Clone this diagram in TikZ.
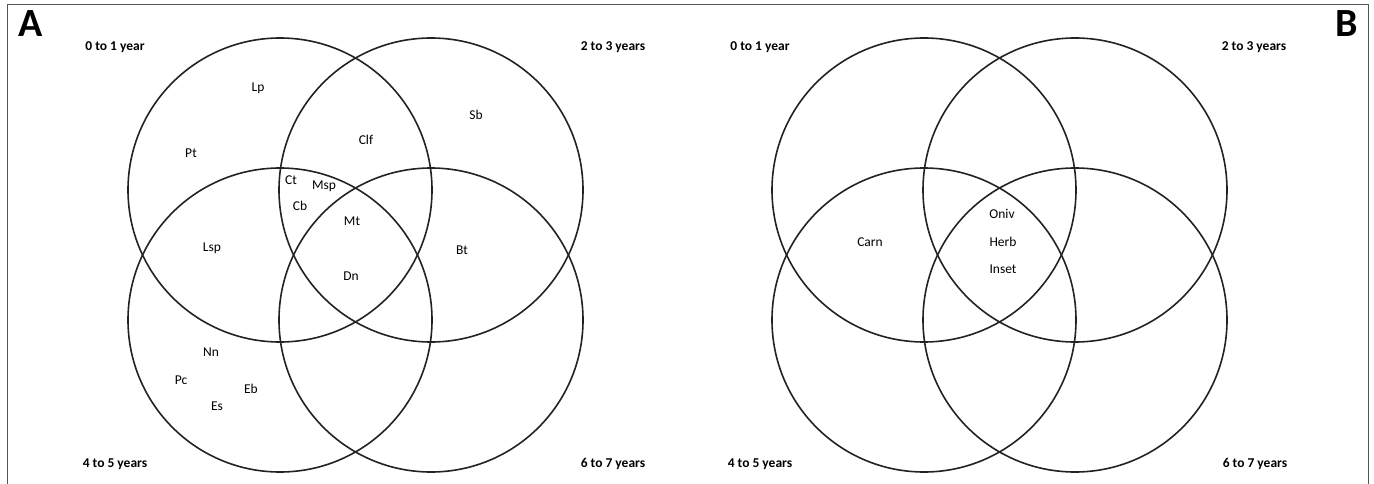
\documentclass[tikz,border=0pt]{standalone}
\usepackage{fontspec}
\setmainfont{Carlito}
\usepackage{tikz}
\usetikzlibrary{positioning}
\definecolor{venngray}{HTML}{222222}
\definecolor{framegray}{HTML}{555555}

\begin{document}
\begin{tikzpicture}[
  x=1pt, y=-1pt,
  set circle/.style={circle, draw=venngray, line width=1.6pt, minimum size=304pt, inner sep=0pt},
  age label/.style={font=\fontsize{13.5}{15}\selectfont\bfseries, text=black},
  taxon/.style={font=\fontsize{13.5}{15}\selectfont, text=black, inner sep=1pt},
  panel label/.style={font=\fontsize{40}{42}\selectfont\bfseries, text=black}
]
\useasboundingbox (0,0) rectangle (1374,484);
\draw[framegray, line width=1pt] (7,490) -- (7,5) -- (1368,5) -- (1368,490);

% panel A
\node[panel label] (A) at (31,24) {A};
\node[set circle] (a01) at (280,190) {};
\node[set circle] (a23) at (431,190) {};
\node[set circle] (a45) at (280,320) {};
\node[set circle] (a67) at (431,320) {};
\node[age label] (ya01) at (115,47) {0 to 1 year};
\node[age label] (ya23) at (613,47) {2 to 3 years};
\node[age label] (ya45) at (115,464) {4 to 5 years};
\node[age label] (ya67) at (613,464) {6 to 7 years};
\node[taxon] (lp) at (258,88) {Lp};
\node[taxon] (pt) at (191,153) {Pt};
\node[taxon] (clf) at (366,140) {Clf};
\node[taxon] (sb) at (476,115) {Sb};
\node[taxon] (ct) at (291,180) {Ct};
\node[taxon] (msp) at (324,186) {Msp};
\node[taxon] (cb) at (300,206) {Cb};
\node[taxon] (mt) at (352,221) {Mt};
\node[taxon] (lsp) at (212,248) {Lsp};
\node[taxon] (bt) at (462,250) {Bt};
\node[taxon] (dn) at (351,276) {Dn};
\node[taxon] (nn) at (211,352) {Nn};
\node[taxon] (pc) at (181,380) {Pc};
\node[taxon] (eb) at (251,389) {Eb};
\node[taxon] (es) at (217,406) {Es};

% panel B
\node[panel label] (B) at (1347,24) {B};
\node[set circle] (b01) at (924,190) {};
\node[set circle] (b23) at (1075,190) {};
\node[set circle] (b45) at (924,320) {};
\node[set circle] (b67) at (1075,320) {};
\node[age label] (yb01) at (760,47) {0 to 1 year};
\node[age label] (yb23) at (1254,47) {2 to 3 years};
\node[age label] (yb45) at (760,464) {4 to 5 years};
\node[age label] (yb67) at (1255,464) {6 to 7 years};
\node[taxon] (carn) at (870,242) {Carn};
\node[taxon] (oniv) at (1002,214) {Oniv};
\node[taxon] (herb) at (1003,242) {Herb};
\node[taxon] (inset) at (1003,269) {Inset};
\end{tikzpicture}
\end{document}
